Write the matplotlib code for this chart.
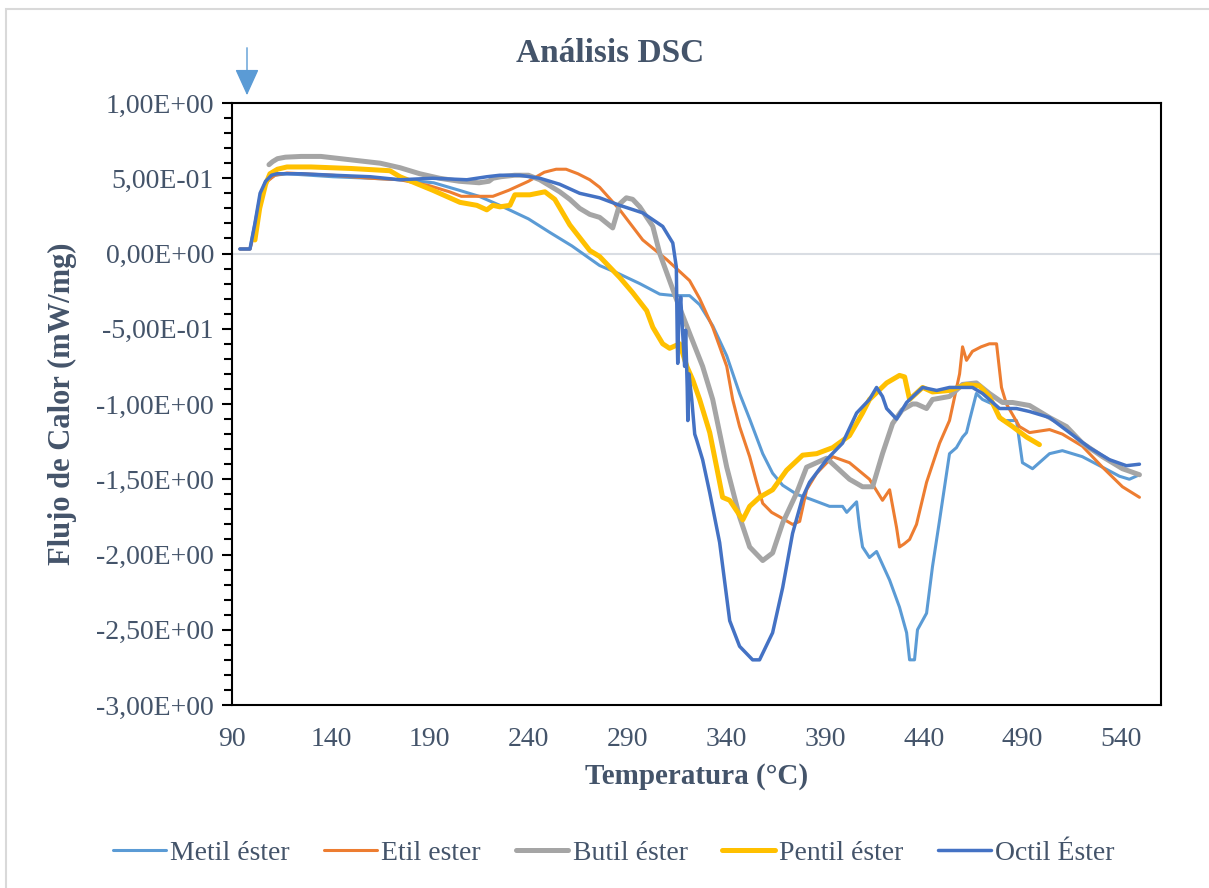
#!/usr/bin/env python3
"""
DSC curves (heat flow vs temperature) for five esters.
Output: out.png
"""

import matplotlib
matplotlib.use("Agg")  # headless
import matplotlib.pyplot as plt
from matplotlib.patches import Rectangle, FancyArrowPatch
from matplotlib.ticker import MultipleLocator, FuncFormatter

plt.rcParams["font.family"] = ["Liberation Serif", "DejaVu Serif"]

TEXT = "#44546A"

# --- data: temperature (°C), heat flow (mW/mg) ---
metil_t = [94.0, 99.1, 101.6, 104.2, 107, 111.7, 117.8, 141, 160, 175, 192, 205, 215, 225.5,
           240, 250.8, 262, 276, 285, 296.3, 306.4, 314, 321.5, 326.6, 333.2, 340.3, 346.8,
           351.9, 358.5, 363.5, 368.6, 375.7, 382.2, 392.3, 398.9, 401, 406, 407.5, 409,
           412.5, 416.1, 422.7, 427.7, 431.3, 432.8, 435.3, 436.8, 441.4, 444.4, 448, 453,
           456.5, 459.6, 461.6, 463.1, 466.6, 469.7, 474.7, 479.8, 486.9, 489.9, 495, 503.6,
           510.1, 520.2, 530.4, 539, 544, 549.1]
metil_q = [0.03, 0.03, 0.20, 0.38, 0.48, 0.52, 0.53, 0.51, 0.50, 0.49, 0.47, 0.42, 0.38, 0.32,
           0.23, 0.14, 0.05, -0.08, -0.13, -0.20, -0.27, -0.28, -0.28, -0.34, -0.48, -0.68, -0.93,
           -1.10, -1.33, -1.46, -1.54, -1.60, -1.63, -1.68, -1.68, -1.72, -1.65, -1.82, -1.95,
           -2.02, -1.98, -2.17, -2.35, -2.52, -2.70, -2.70, -2.50, -2.39, -2.08, -1.77, -1.33,
           -1.29, -1.22, -1.19, -1.11, -0.93, -0.97, -1.00, -1.11, -1.11, -1.39, -1.43, -1.33,
           -1.31, -1.35, -1.42, -1.48, -1.50, -1.47]

etil_t = [94, 99.1, 101.6, 104.2, 107, 111.7, 117.8, 141, 160, 175, 190, 200, 206, 214, 222,
          230, 240, 248, 254, 259, 265, 271, 276, 286.2, 297.8, 309.9, 321.5, 326.6, 333.2,
          340.3, 343.3, 346.8, 351.9, 355.4, 358.5, 363, 367.1, 373.6, 377.2, 380.7, 385.8,
          393.9, 402.4, 412.5, 419.1, 422.7, 426.2, 427.7, 430, 432.8, 436.3, 441.4, 448, 453,
          458.1, 459.6, 461.6, 464.6, 469, 473.2, 476.8, 479.3, 481.8, 488.4, 493.5, 503.6,
          510.1, 520.2, 530.4, 540.5, 549.1]
etil_q = [0.03, 0.03, 0.15, 0.36, 0.47, 0.52, 0.535, 0.52, 0.50, 0.49, 0.45, 0.41, 0.38, 0.38,
          0.38, 0.42, 0.48, 0.54, 0.56, 0.56, 0.53, 0.49, 0.44, 0.29, 0.09, -0.04, -0.18, -0.30,
          -0.49, -0.75, -0.97, -1.15, -1.35, -1.52, -1.66, -1.72, -1.75, -1.80, -1.78, -1.57,
          -1.46, -1.35, -1.39, -1.50, -1.64, -1.57, -1.82, -1.95, -1.93, -1.90, -1.80, -1.52,
          -1.26, -1.11, -0.80, -0.62, -0.71, -0.65, -0.62, -0.60, -0.60, -0.89, -1.00, -1.15,
          -1.19, -1.17, -1.20, -1.28, -1.42, -1.55, -1.62]

butil_t = [108.7, 110.5, 113, 117, 125, 135, 145, 155, 165, 175, 185, 195, 205, 215, 220, 222,
           226, 233, 240, 245.7, 250.8, 255.8, 260.9, 265.9, 271, 276, 282.6, 286.2, 289.5,
           292.7, 296.3, 302.9, 306.4, 315, 321.5, 328.1, 333.2, 340.3, 346.8, 351.9, 358.5,
           363.5, 368.6, 375.7, 380.7, 390.8, 402.4, 409, 414.1, 419.1, 424.2, 429, 434.3,
           436.3, 441.4, 444.4, 453, 459.6, 466.6, 473.2, 479.8, 484.9, 493.5, 503.6, 512.2,
           520.2, 530.4, 540.5, 549.1]
butil_q = [0.59, 0.61, 0.63, 0.64, 0.645, 0.645, 0.63, 0.615, 0.60, 0.57, 0.53, 0.50, 0.48,
           0.47, 0.48, 0.50, 0.51, 0.52, 0.52, 0.49, 0.45, 0.41, 0.36, 0.30, 0.26, 0.24, 0.17,
           0.33, 0.37, 0.36, 0.31, 0.18, 0.0, -0.31, -0.53, -0.75, -0.97, -1.42, -1.75, -1.95,
           -2.04, -1.99, -1.79, -1.59, -1.42, -1.36, -1.50, -1.55, -1.55, -1.33, -1.13, -1.04,
           -1.00, -1.00, -1.03, -0.97, -0.95, -0.87, -0.86, -0.93, -0.99, -0.99, -1.01, -1.09,
           -1.15, -1.26, -1.35, -1.43, -1.47]

pentil_t = [101.6, 104, 107, 109.2, 113, 117.8, 130, 150, 169.9, 175, 191.6, 205.3, 213.9,
            218.9, 222, 225.5, 230.6, 233.1, 240.7, 248.3, 253.3, 260.9, 271, 276, 286.2,
            292.7, 299.8, 302.9, 307.9, 311.4, 316.5, 320.1, 323.1, 326.6, 331.7, 335.2,
            338.2, 341.8, 348.4, 351.9, 356.9, 363.5, 370.6, 378.7, 385.8, 393.9, 402.4, 409,
            412.5, 421.2, 427.7, 430.3, 432.8, 439.4, 444.4, 453, 461.6, 468.2, 473.2, 478.3,
            484.9, 492, 498.5]
pentil_q = [0.09, 0.30, 0.46, 0.53, 0.56, 0.575, 0.575, 0.565, 0.55, 0.51, 0.42, 0.34, 0.32,
            0.29, 0.32, 0.31, 0.32, 0.39, 0.39, 0.41, 0.36, 0.19, 0.02, -0.02, -0.16, -0.26,
            -0.38, -0.49, -0.60, -0.63, -0.60, -0.75, -0.84, -0.97, -1.19, -1.42, -1.62, -1.64,
            -1.77, -1.68, -1.62, -1.57, -1.44, -1.34, -1.33, -1.29, -1.21, -1.06, -0.97, -0.86,
            -0.81, -0.82, -0.97, -0.89, -0.92, -0.91, -0.87, -0.88, -0.95, -1.09, -1.15, -1.22,
            -1.27]

octil_t = [94, 99.1, 101.6, 104.2, 107, 110, 112.8, 125, 141.1, 160, 174.9, 191.6, 208.8,
           218.9, 225.5, 235.6, 245.7, 255.8, 265.9, 276, 286.2, 297.8, 307.9, 313, 314.8,
           315, 315.3, 315.5, 316, 317, 318, 319, 319.5, 320.3, 320.6, 321.2, 322.6, 324.1,
           325.1, 328.1, 331.7, 336.7, 341.8, 346.8, 353.4, 356.9, 363.5, 368.6, 373.6, 378.7,
           382.2, 390.8, 398.9, 406, 412.5, 416.1, 419.1, 421.2, 426.2, 431.3, 439.4, 446.5,
           453, 464.6, 469.7, 478.3, 486.9, 493.5, 503.6, 513.7, 523.8, 533.9, 542.5, 549.1]
octil_q = [0.03, 0.03, 0.20, 0.40, 0.48, 0.52, 0.53, 0.53, 0.52, 0.51, 0.49, 0.50, 0.49, 0.51,
           0.52, 0.52, 0.50, 0.46, 0.40, 0.37, 0.32, 0.27, 0.18, 0.07, -0.09, -0.31, -0.60,
           -0.73, -0.45, -0.29, -0.53, -0.75, -0.51, -0.89, -1.11, -0.80, -0.97, -1.20, -1.24,
           -1.37, -1.59, -1.92, -2.44, -2.61, -2.70, -2.70, -2.52, -2.22, -1.86, -1.62, -1.52,
           -1.37, -1.26, -1.06, -0.97, -0.89, -0.95, -1.03, -1.10, -0.99, -0.89, -0.91, -0.89,
           -0.89, -0.93, -1.03, -1.03, -1.05, -1.09, -1.19, -1.29, -1.37, -1.41, -1.40]

SERIES = [
    ("Metil éster", metil_t, metil_q, "#5B9BD5", 2.2),
    ("Etil ester", etil_t, etil_q, "#ED7D31", 2.2),
    ("Butil éster", butil_t, butil_q, "#A5A5A5", 3.6),
    ("Pentil éster", pentil_t, pentil_q, "#FFC000", 3.6),
    ("Octil Éster", octil_t, octil_q, "#4472C4", 2.5),
]


def sci_comma(v, _pos):
    return f"{v:.2E}".replace(".", ",")


def main():
    fig = plt.figure(figsize=(12.09, 8.88), dpi=100)
    ax = fig.add_axes([232 / 1209, 1 - 705 / 888, (1161 - 232) / 1209, (705 - 103) / 888])

    # light frame of the chart area
    fig.patches.append(Rectangle((6 / 1209, -0.05), 1.1, 1.05 - 9 / 888,
                                 transform=fig.transFigure, fill=False,
                                 edgecolor="#D9D9D9", linewidth=1.5))

    ax.axhline(0, color="#D9DDE3", linewidth=1.5, zorder=1)
    for name, t, q, color, lw in SERIES:
        ax.plot(t, q, color=color, linewidth=lw, label=name, zorder=3,
                solid_joinstyle="round", solid_capstyle="round")

    ax.set_xlim(90, 560)
    ax.set_ylim(-3, 1)
    ax.set_xticks(range(90, 541, 50))
    ax.yaxis.set_major_locator(MultipleLocator(0.5))
    ax.yaxis.set_minor_locator(MultipleLocator(0.1))
    ax.yaxis.set_major_formatter(FuncFormatter(sci_comma))

    for sp in ax.spines.values():
        sp.set_linewidth(1.5)
        sp.set_color("black")
    ax.tick_params(axis="x", length=0, pad=16, labelsize=20, labelcolor=TEXT)
    ax.tick_params(axis="y", which="major", direction="out", length=7, width=1.5,
                   pad=6, labelsize=20, labelcolor=TEXT)
    ax.tick_params(axis="y", which="minor", direction="out", length=6, width=1.5)

    ax.set_xlabel("Temperatura (°C)", fontsize=21, fontweight="bold", color=TEXT, labelpad=8)
    ax.set_ylabel("Flujo de Calor (mW/mg)", fontsize=22, fontweight="bold", color=TEXT,
                  labelpad=14)
    fig.text(610 / 1209, 1 - 53 / 888, "Análisis DSC", ha="center", va="center",
             fontsize=24, fontweight="bold", color=TEXT)

    # marker arrow at the start of the run
    fig.add_artist(FancyArrowPatch(
        (247 / 1209, 1 - 45 / 888), (247 / 1209, 1 - 98 / 888),
        transform=fig.transFigure, arrowstyle="-|>,head_length=1.1,head_width=0.5",
        mutation_scale=15, color="#5B9BD5", linewidth=1.0))

    leg = fig.legend(loc="center", bbox_to_anchor=(614 / 1209, 1 - 853 / 888), ncol=5,
                     frameon=False, fontsize=20, handlelength=1.9, handletextpad=0.15,
                     columnspacing=1.25)
    for txt in leg.get_texts():
        txt.set_color(TEXT)

    fig.savefig("out.png", dpi=100)
    plt.close(fig)


if __name__ == "__main__":
    main()
